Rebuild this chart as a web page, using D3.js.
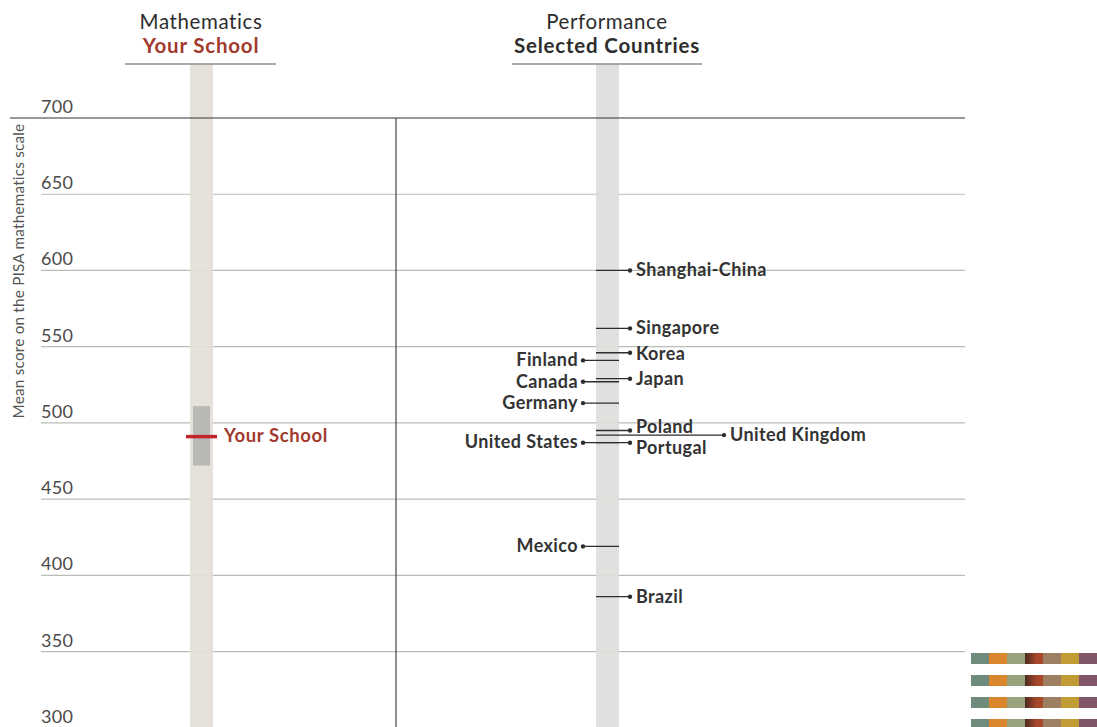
<!DOCTYPE html>
<html>
<head>
<meta charset="utf-8">
<script src="https://cdn.jsdelivr.net/npm/d3@7"></script>
<style>
  html, body { margin: 0; padding: 0; background: #fff; }
  svg { display: block; }
  text { font-family: Lato, "Open Sans", sans-serif; }
</style>
</head>
<body>
<svg id="chart" width="1097" height="727"></svg>
<script>
// PISA mean mathematics scores
const countries = ["Shanghai-China", "Singapore", "Korea", "Finland", "Japan", "Canada",
  "Germany", "Poland", "United Kingdom", "Portugal", "United States", "Mexico", "Brazil"];
const scores = [600, 562, 546, 541, 529, 527, 513, 495, 492, 487, 487, 419, 386];
const labelSide = ["right", "right", "right", "left", "right", "left",
  "left", "right", "far", "right", "left", "left", "right"];

// School estimate with its confidence interval
const schoolMean = 491;
const schoolLow = 472;
const schoolHigh = 511;

const yTicks = [700, 650, 600, 550, 500, 450, 400, 350, 300];

const swatchColors = ["#6e8b7b", "#da862c", "#99a37b", "grad", "#9e7f62", "#c19b34", "#805668"];
const swatchRows = [0, 1, 2, 3];

const svg = d3.select("#chart");

const y = d3.scaleLinear().domain([300, 700]).range([727.8, 118]);

const gridLeft = 41, gridRight = 965;
const schoolBand = { x: 190, w: 23 };
const countryBand = { x: 596, w: 23 };

// gridlines with labels above them
const grid = svg.append("g");
grid.selectAll("line.grid")
  .data(yTicks.filter(d => d !== 700))
  .join("line")
  .attr("x1", gridLeft).attr("x2", gridRight)
  .attr("y1", d => y(d)).attr("y2", d => y(d))
  .attr("stroke", "#b9bdb6").attr("stroke-width", 1.2);

// columns
svg.append("rect")
  .attr("x", schoolBand.x).attr("y", 64)
  .attr("width", schoolBand.w).attr("height", 727 - 64)
  .attr("fill", "#e5ded8").attr("opacity", 0.92);
svg.append("rect")
  .attr("x", countryBand.x).attr("y", 64)
  .attr("width", countryBand.w).attr("height", 727 - 64)
  .attr("fill", "#dddedb").attr("opacity", 0.92);

// top frame line and divider
svg.append("line")
  .attr("x1", 10).attr("x2", gridRight)
  .attr("y1", y(700)).attr("y2", y(700))
  .attr("stroke", "#333").attr("stroke-width", 1.2);
svg.append("line")
  .attr("x1", 396).attr("x2", 396)
  .attr("y1", y(700)).attr("y2", 727)
  .attr("stroke", "#444").attr("stroke-width", 1.2);

grid.selectAll("text.tick")
  .data(yTicks)
  .join("text")
  .attr("x", gridLeft)
  .attr("y", d => y(d) - 5)
  .attr("font-size", 18)
  .attr("letter-spacing", 0.3)
  .attr("fill", "#4a4a4a")
  .text(d => d);

// axis title
svg.append("text")
  .attr("transform", `translate(24, ${271}) rotate(-90)`)
  .attr("text-anchor", "middle")
  .attr("font-size", 15.3)
  .attr("letter-spacing", 0.2)
  .attr("fill", "#555")
  .text("Mean score on the PISA mathematics scale");

// column headers
function header(cx, line1, line2, color2, x1, x2) {
  svg.append("text").attr("x", cx).attr("y", 29)
    .attr("text-anchor", "middle").attr("font-size", 20.5).attr("letter-spacing", 0.6)
    .attr("fill", "#2d2d2d").text(line1);
  svg.append("text").attr("x", cx).attr("y", 53)
    .attr("text-anchor", "middle").attr("font-size", 20.5).attr("font-weight", 700)
    .attr("letter-spacing", 0.8).attr("fill", color2).text(line2);
  svg.append("line").attr("x1", x1).attr("x2", x2).attr("y1", 64).attr("y2", 64)
    .attr("stroke", "#8f8f8f").attr("stroke-width", 1.6);
}
header(201, "Mathematics", "Your School", "#a23a2e", 125, 276);
header(607, "Performance", "Selected Countries", "#2d2d2d", 512, 702);

// school confidence interval and mean
svg.append("rect")
  .attr("x", schoolBand.x + 3).attr("width", schoolBand.w - 6)
  .attr("y", y(schoolHigh)).attr("height", y(schoolLow) - y(schoolHigh))
  .attr("fill", "#b8b9b5");
svg.append("line")
  .attr("x1", 186).attr("x2", 217)
  .attr("y1", y(schoolMean)).attr("y2", y(schoolMean))
  .attr("stroke", "#c1262d").attr("stroke-width", 3.5);
svg.append("text")
  .attr("x", 224).attr("y", y(schoolMean) + 5)
  .attr("font-size", 18.5).attr("font-weight", 700).attr("letter-spacing", 0.6)
  .attr("fill", "#a23a2e")
  .text("Your School");

// country markers
const rightDot = 630, leftDot = 583, farDot = 724;
const rows = countries.map((c, i) => ({ name: c, score: scores[i], side: labelSide[i] }));
const cg = svg.append("g");
rows.forEach(d => {
  const yy = y(d.score);
  let x1, x2, dot, tx, anchor;
  if (d.side === "left") {
    x1 = leftDot; x2 = countryBand.x + countryBand.w; dot = leftDot; tx = leftDot - 5; anchor = "end";
  } else {
    const end = d.side === "far" ? farDot : rightDot;
    x1 = countryBand.x; x2 = end; dot = end; tx = end + 6; anchor = "start";
  }
  cg.append("line").attr("x1", x1).attr("x2", x2).attr("y1", yy).attr("y2", yy)
    .attr("stroke", "#2d2d2d").attr("stroke-width", 1.3);
  cg.append("circle").attr("cx", dot).attr("cy", yy).attr("r", 2.2).attr("fill", "#2d2d2d");
  let ty = yy + 6;
  if (d.name === "Poland") ty = yy + 2;
  if (d.name === "Korea") ty = yy + 7;
  if (d.name === "Portugal") ty = yy + 11;
  if (d.name === "United States") ty = yy + 5;
  cg.append("text").attr("x", tx).attr("y", ty)
    .attr("text-anchor", anchor).attr("font-size", 18).attr("font-weight", 700)
    .attr("letter-spacing", 0.4).attr("fill", "#333").text(d.name);
});

// colour strips
const defs = svg.append("defs");
const grad = defs.append("linearGradient").attr("id", "darkRed");
grad.append("stop").attr("offset", "0%").attr("stop-color", "#4a2b20");
grad.append("stop").attr("offset", "60%").attr("stop-color", "#a4472a");
grad.append("stop").attr("offset", "100%").attr("stop-color", "#a94a2b");

const sx = d3.scaleBand().domain(d3.range(swatchColors.length)).range([971, 1097]);
swatchRows.forEach(r => {
  svg.append("g").selectAll("rect")
    .data(swatchColors)
    .join("rect")
    .attr("x", (d, i) => sx(i)).attr("width", sx.bandwidth() + 0.5)
    .attr("y", 653 + r * 22).attr("height", 11)
    .attr("fill", d => d === "grad" ? "url(#darkRed)" : d);
});
</script>
</body>
</html>
